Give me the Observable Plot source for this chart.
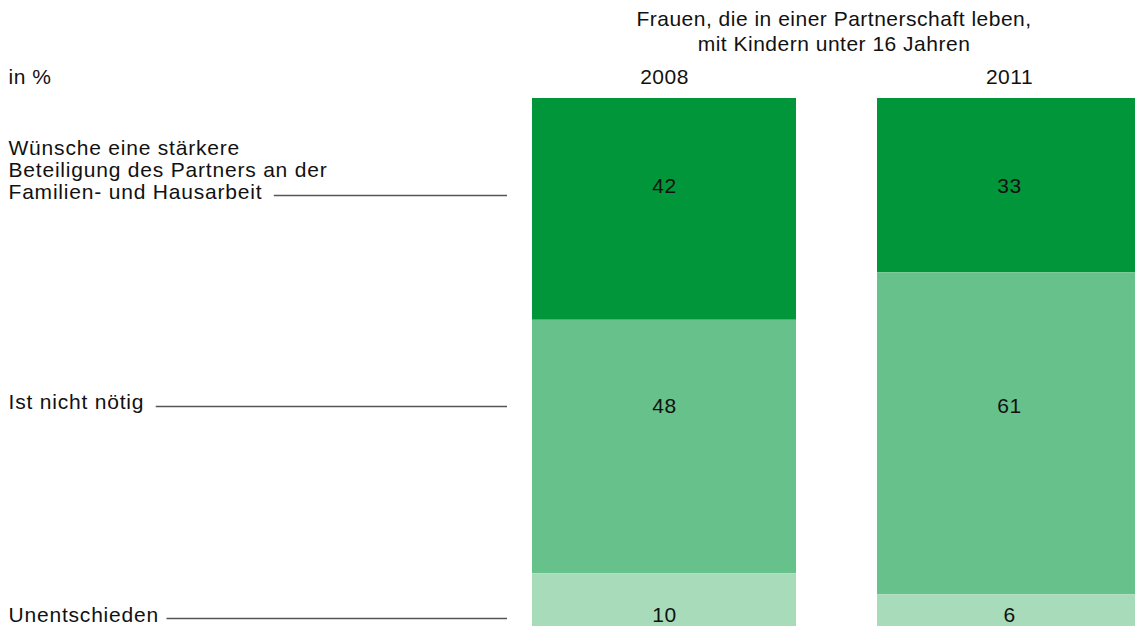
<!DOCTYPE html>
<html>
<head>
<meta charset="utf-8">
<script src="https://cdn.jsdelivr.net/npm/d3@7"></script>
<script src="https://cdn.jsdelivr.net/npm/@observablehq/plot@0.6"></script>
<style>
  html, body { margin: 0; padding: 0; background: #fff; overflow: hidden; }
  #chart svg { display: block; }
</style>
</head>
<body>
<div id="chart"></div>
<script>
// ---- data ----
const years = ["2008", "2011"];
const categories = [
  "Wünsche eine stärkere\nBeteiligung des Partners an der\nFamilien- und Hausarbeit",
  "Ist nicht nötig",
  "Unentschieden"
];
const values2008 = [42, 48, 10];
const values2011 = [33, 61, 6];
const titleText = "Frauen, die in einer Partnerschaft leben,\nmit Kindern unter 16 Jahren";
const unitText = "in %";

// ---- layout / style (not data) ----
const colors = ["#009639", "#66c18a", "#a8dbb9"];
const labelRow = [18.4, 58.3, 98.5];   // row position of left labels & leaders (in % units)
const valueRow = [16.6, 58.3, 97.9];   // row position of value labels (in % units)
const FONT = "Liberation Sans, Arial, Helvetica, sans-serif";
const FS = 21;
const LS = 0.5;       // default letter spacing px
const LS_LABEL = 0.8; // letter spacing of the left labels

const table = [];
categories.forEach((c, i) => {
  table.push({year: years[0], cat: c, idx: i, value: values2008[i]});
  table.push({year: years[1], cat: c, idx: i, value: values2011[i]});
});

const plot = Plot.plot({
  width: 1135,
  height: 626,
  marginTop: 98,
  marginBottom: 0,
  marginLeft: 531,
  marginRight: -7,
  style: {fontFamily: FONT, fontSize: FS + "px", color: "#111", background: "#fff", overflow: "visible", letterSpacing: LS + "px"},
  x: {domain: years, paddingInner: 0.234, paddingOuter: 0, axis: null},
  y: {domain: [0, 100], reverse: true, axis: null},
  color: {domain: categories, range: colors},
  marks: [
    Plot.barY(table, Plot.stackY({order: null}, {x: "year", y: "value", fill: "cat"})),
    Plot.text(table, {x: "year", y: d => valueRow[d.idx], text: d => String(d.value), fill: "#111", fontSize: FS}),
    Plot.text(years, {x: d => d, frameAnchor: "top", dy: -21, lineAnchor: "middle", text: d => d, fill: "#111", fontSize: FS}),
    Plot.text([titleText], {frameAnchor: "top", dy: -90, lineAnchor: "top", lineHeight: 25 / FS, text: d => d, fill: "#111", fontSize: FS, dx: -3}),
    Plot.text([unitText], {frameAnchor: "top-left", dx: -523, dy: -21, textAnchor: "start", lineAnchor: "middle", text: d => d, fill: "#111", fontSize: FS}),
    Plot.text(categories, {
      y: (d, i) => labelRow[i], frameAnchor: "left", dx: -523, dy: 3,
      textAnchor: "start", lineAnchor: "bottom", lineHeight: 22 / FS,
      text: d => d, fill: "#111", fontSize: FS
    })
  ]
});

// wider tracking for the left-hand labels (last text mark)
d3.select(plot).selectAll("g[aria-label='text']").filter((d, i, n) => i === n.length - 1)
  .attr("letter-spacing", LS_LABEL + "px");

document.getElementById("chart").appendChild(plot);

// leader lines drawn with the plot's own y scale
const yScale = plot.scale("y");
const ctx = document.createElement("canvas").getContext("2d");
ctx.font = FS + "px " + FONT;
const svg = d3.select(plot);
const gaps = [12, 12, 8];
categories.forEach((c, i) => {
  const lines = c.split("\n");
  const last = lines[lines.length - 1];
  const w = ctx.measureText(last).width + LS_LABEL * last.length;
  const y = Math.round(yScale.apply(labelRow[i])) + 0.5;
  svg.append("line")
    .attr("x1", 8 + w + gaps[i])
    .attr("x2", 507)
    .attr("y1", y)
    .attr("y2", y)
    .attr("stroke", "#555")
    .attr("stroke-width", 1.3);
});
</script>
</body>
</html>
